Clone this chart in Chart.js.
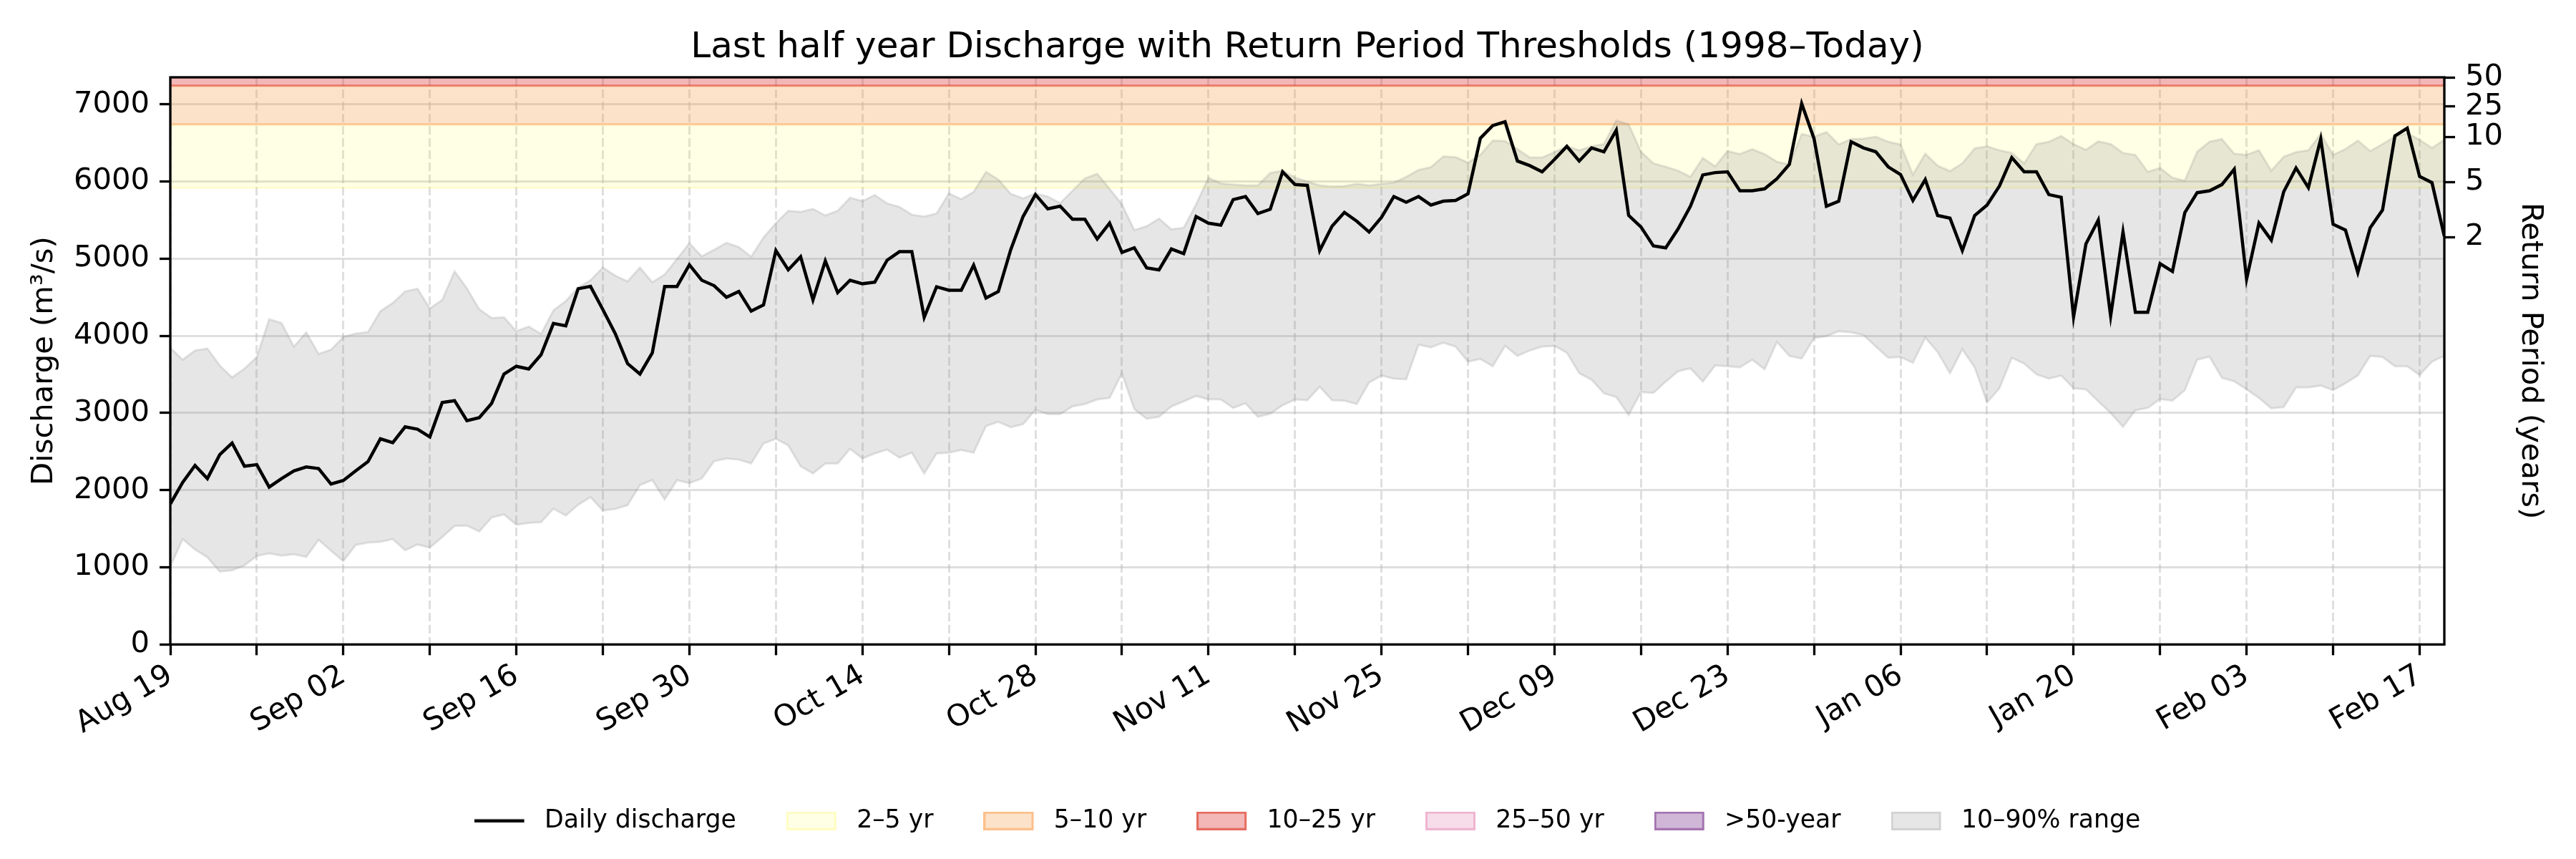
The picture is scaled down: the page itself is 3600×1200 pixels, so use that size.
<!DOCTYPE html>
<html>
<head>
<meta charset="utf-8">
<title>Discharge with Return Period Thresholds</title>
<script src="https://cdn.jsdelivr.net/npm/chart.js@4.4.1/dist/chart.umd.min.js"></script>
<style>
  html, body { margin: 0; padding: 0; background: #fff; overflow: hidden; }
  #wrap { width: 3600px; height: 1200px; }
</style>
</head>
<body>
<div id="wrap"><canvas id="chartQ" width="3600" height="1200"></canvas></div>
<script>
// Daily discharge (m³/s), one value per day from Aug 19
const dailyDischarge = [
  1820, 2100, 2320, 2150, 2460, 2610, 2310, 2330, 2040, 2150,
  2250, 2300, 2280, 2080, 2125, 2250, 2370, 2665, 2615, 2820,
  2790, 2690, 3135, 3160, 2900, 2940, 3125, 3505, 3605, 3570,
  3755, 4160, 4130, 4610, 4640, 4340, 4030, 3640, 3505, 3780,
  4640, 4640, 4920, 4720, 4650, 4500, 4575, 4320, 4400, 5105,
  4855, 5025, 4465, 4970, 4560, 4720, 4675, 4695, 4980, 5090,
  5090, 4240, 4635, 4590, 4590, 4915, 4490, 4575, 5115, 5545,
  5830, 5645, 5680, 5510, 5510, 5255, 5460, 5080, 5140, 4880,
  4855, 5125, 5065, 5545, 5460, 5435, 5765, 5805, 5585, 5640,
  6125, 5960, 5950, 5105, 5420, 5600, 5485, 5345, 5535, 5805,
  5730, 5805, 5695, 5745, 5755, 5840, 6560, 6725, 6775, 6265,
  6205, 6125, 6285, 6455, 6265, 6435, 6385, 6665, 5560, 5410,
  5165, 5140, 5385, 5680, 6085, 6115, 6125, 5880, 5880, 5905,
  6035, 6220, 7010, 6555, 5680, 5745, 6515, 6435, 6385, 6190,
  6090, 5755, 6025, 5560, 5525, 5105, 5560, 5695, 5940, 6310,
  6125, 6125, 5830, 5795, 4245, 5190, 5500, 4255, 5345, 4305,
  4305, 4935, 4835, 5595, 5855, 5880, 5960, 6160, 4735, 5460,
  5240, 5865, 6175, 5920, 6550, 5445, 5370, 4820, 5400, 5630,
  6590, 6690, 6065, 5985, 5290
];

// 90th percentile of the same calendar day (1998–today)
const range90 = [
  3845, 3690, 3810, 3835, 3615, 3460, 3575, 3725, 4215, 4165,
  3860, 4045, 3765, 3820, 3985, 4030, 4050, 4320, 4425, 4575,
  4610, 4355, 4465, 4835, 4615, 4345, 4230, 4240, 4060, 4120,
  4025, 4330, 4450, 4625, 4720, 4885, 4780, 4705, 4885, 4695,
  4795, 4995, 5200, 5030, 5115, 5205, 5150, 5025, 5275, 5460,
  5620, 5605, 5645, 5560, 5620, 5790, 5745, 5825, 5715, 5670,
  5570, 5545, 5585, 5845, 5770, 5865, 6125, 6025, 5840, 5780,
  5845, 5805, 5720, 5880, 6040, 6100, 5905, 5705, 5370, 5420,
  5520, 5380, 5400, 5705, 6050, 5975, 5960, 5950, 5950, 6110,
  6140, 6050, 6000, 5950, 5935, 5940, 5970, 5950, 5970, 5985,
  6060, 6150, 6185, 6325, 6315, 6245, 6345, 6530, 6525, 6420,
  6310, 6310, 6380, 6455, 6405, 6455, 6485, 6790, 6740, 6385,
  6235, 6190, 6140, 6060, 6305, 6195, 6395, 6355, 6420, 6355,
  6255, 6220, 6615, 6580, 6640, 6480, 6550, 6555, 6580, 6515,
  6480, 6090, 6360, 6205, 6135, 6235, 6430, 6455, 6405, 6370,
  6235, 6485, 6515, 6590, 6485, 6410, 6520, 6485, 6370, 6345,
  6125, 6175, 6050, 6010, 6385, 6515, 6550, 6360, 6345, 6405,
  6140, 6320, 6380, 6405, 6615, 6345, 6420, 6530, 6395, 6485,
  6580, 6625, 6540, 6435, 6540
];

// 10th percentile of the same calendar day (1998–today)
const range10 = [
  1010, 1365, 1230, 1130, 945, 960, 1025, 1145, 1180, 1150,
  1170, 1135, 1355, 1215, 1080, 1290, 1320, 1330, 1365, 1220,
  1295, 1255, 1390, 1535, 1540, 1465, 1645, 1685, 1550, 1575,
  1585, 1760, 1670, 1810, 1910, 1735, 1755, 1805, 2065, 2130,
  1880, 2130, 2090, 2150, 2375, 2410, 2395, 2345, 2605, 2665,
  2580, 2310, 2215, 2345, 2345, 2535, 2410, 2475, 2525, 2420,
  2485, 2215, 2475, 2485, 2520, 2485, 2830, 2885, 2815, 2855,
  3040, 2985, 2985, 3085, 3115, 3175, 3195, 3515, 3050, 2925,
  2950, 3085, 3150, 3220, 3175, 3175, 3065, 3125, 2950, 2990,
  3100, 3175, 3165, 3340, 3165, 3160, 3115, 3395, 3485, 3445,
  3435, 3885, 3850, 3910, 3860, 3665, 3700, 3605, 3870, 3740,
  3810, 3860, 3870, 3780, 3515, 3430, 3255, 3205, 2975, 3270,
  3260, 3405, 3540, 3580, 3405, 3615, 3605, 3590, 3690, 3565,
  3920, 3740, 3705, 3970, 3995, 4060, 4045, 4010, 3860, 3715,
  3725, 3650, 3975, 3790, 3515, 3825, 3590, 3135, 3320, 3715,
  3640, 3500, 3445, 3485, 3320, 3305, 3150, 3000, 2820, 3035,
  3065, 3180, 3160, 3295, 3690, 3730, 3455, 3410, 3305, 3195,
  3060, 3075, 3330, 3330, 3355, 3295, 3385, 3485, 3740, 3725,
  3605, 3605, 3490, 3665, 3740
];

// Return period bands (m³/s)
const bandLabels = ['2–5 yr', '5–10 yr', '10–25 yr', '25–50 yr', '>50-year'];
const bandLower = [5920, 6740, 7240, 7700, 8100];
const bandUpper = [6740, 7240, 7700, 8100, 9000];

// Left axis ticks
const dischargeTicks = [0, 1000, 2000, 3000, 4000, 5000, 6000, 7000];

// Right axis: return period ticks
const rpTickLabels = ['2', '5', '10', '25', '50'];
const rpTickValues = [5280, 5990, 6575, 6970, 7350];

const yMax = 7350;
const startDate = new Date(2024, 7, 19);
const monthNames = ['Jan', 'Feb', 'Mar', 'Apr', 'May', 'Jun', 'Jul', 'Aug', 'Sep', 'Oct', 'Nov', 'Dec'];
const dayIndex = dailyDischarge.map((_, i) => i);
const lastDay = dayIndex[dayIndex.length - 1];

const bandFill = ['rgba(255,255,0,0.1)', 'rgba(250,160,80,0.3)', 'rgba(220,50,50,0.35)', 'rgba(225,120,170,0.25)', 'rgba(120,50,140,0.35)'];
const bandEdge = ['rgba(255,235,0,0.15)', 'rgba(250,150,60,0.45)', 'rgba(220,60,40,0.6)', 'rgba(225,120,170,0.4)', 'rgba(120,50,140,0.5)'];
const rangeFill = 'rgba(128,128,128,0.2)';
const rangeEdge = 'rgba(128,128,128,0.2)';

const tickFont = 41.7;
Chart.defaults.font.family = "'DejaVu Sans', sans-serif";
Chart.defaults.color = '#000';

const fmtDay = v => {
    const d = new Date(startDate.getFullYear(), startDate.getMonth(), startDate.getDate() + v);
    return monthNames[d.getMonth()] + ' ' + String(d.getDate()).padStart(2, '0');
};

// Legend swatches (box is 70 wide, extra room acts as text gap)
const boxSwatch = (fill, edge) => {
    const c = document.createElement('canvas');
    c.width = 81; c.height = 26;
    const g = c.getContext('2d');
    g.fillStyle = fill;
    g.fillRect(0, 0, 70, 26);
    g.strokeStyle = edge;
    g.lineWidth = 3;
    g.strokeRect(1.5, 1.5, 67, 23);
    return c;
};
const lineSwatch = color => {
    const c = document.createElement('canvas');
    c.width = 81; c.height = 26;
    const g = c.getContext('2d');
    g.strokeStyle = color;
    g.lineWidth = 4.5;
    g.beginPath(); g.moveTo(0, 13); g.lineTo(70, 13); g.stroke();
    return c;
};
const legendItems = [
    { text: 'Daily discharge', swatch: lineSwatch('#000') },
    ...bandLabels.map((t, i) => ({ text: t, swatch: boxSwatch(bandFill[i], bandEdge[i]) })),
    { text: '10–90% range', swatch: boxSwatch(rangeFill, rangeEdge) }
];

// Axes frame on all four sides
const framePlugin = {
    id: 'frame',
    afterDatasetsDraw(chart) {
        const { ctx, chartArea: a } = chart;
        ctx.save();
        ctx.strokeStyle = '#000';
        ctx.lineWidth = 3.3;
        ctx.strokeRect(a.left, a.top, a.right - a.left, a.bottom - a.top);
        ctx.restore();
    }
};

const datasets = [
    { label: 'Daily discharge', data: dailyDischarge, borderColor: '#000', borderWidth: 4.5, pointRadius: 0, fill: false },
    { label: '90%', data: range90, borderColor: rangeEdge, backgroundColor: rangeFill, borderWidth: 3, pointRadius: 0, fill: '+1' },
    { label: '10%', data: range10, borderColor: rangeEdge, borderWidth: 3, pointRadius: 0, fill: false }
];
bandLabels.forEach((name, i) => {
    datasets.push({
        label: name,
        data: [{ x: 0, y: bandLower[i] }, { x: lastDay, y: bandLower[i] }],
        borderColor: bandEdge[i],
        backgroundColor: bandFill[i],
        borderWidth: 3,
        pointRadius: 0,
        fill: { value: bandUpper[i] }
    });
});

const ctx = document.getElementById('chartQ').getContext('2d');
new Chart(ctx, {
    type: 'line',
    data: { labels: dayIndex, datasets },
    plugins: [framePlugin],
    options: {
        responsive: false,
        devicePixelRatio: 1,
        animation: false,
        events: [],
        // left padding keeps the legend centred under the plot area
        layout: { autoPadding: false, padding: { top: 20, bottom: 26, left: 54, right: 0 } },
        plugins: {
            tooltip: { enabled: false },
            title: {
                display: true,
                text: 'Last half year Discharge with Return Period Thresholds (1998–Today)',
                color: '#000',
                font: { size: 50, weight: 'normal' },
                padding: { top: 17, bottom: 11 }
            },
            legend: {
                position: 'bottom',
                labels: {
                    usePointStyle: true,
                    pointStyleWidth: 81,
                    padding: 70,
                    color: '#000',
                    font: { size: 34.7 },
                    generateLabels: () => legendItems.map((it, i) => ({
                        text: it.text,
                        pointStyle: it.swatch,
                        fillStyle: 'transparent',
                        strokeStyle: 'transparent',
                        lineWidth: 0,
                        hidden: false,
                        fontColor: '#000',
                        index: i
                    }))
                }
            }
        },
        scales: {
            x: {
                type: 'linear',
                min: 0,
                max: lastDay,
                grid: { color: 'rgba(176,176,176,0.4)', lineWidth: 3, tickColor: '#000', tickWidth: 3.3, tickLength: 15 },
                border: { display: false, dash: [12, 5] },
                ticks: {
                    stepSize: 7,
                    autoSkip: false,
                    includeBounds: false,
                    minRotation: 30,
                    maxRotation: 30,
                    padding: 4,
                    font: { size: tickFont },
                    callback: v => (v % 14 === 0 ? fmtDay(v) : '')
                },
                afterFit: s => { s.height = 159; }
            },
            y: {
                position: 'left',
                min: 0,
                max: yMax,
                grid: { color: 'rgba(176,176,176,0.4)', lineWidth: 3, tickColor: '#000', tickWidth: 3.3, tickLength: 15 },
                border: { display: false },
                afterBuildTicks: s => { s.ticks = dischargeTicks.map(v => ({ value: v })); },
                ticks: { autoSkip: false, padding: 14, font: { size: tickFont }, callback: v => String(v) },
                title: { display: true, text: 'Discharge (m³/s)', font: { size: tickFont }, padding: { top: -17, bottom: 0 } },
                afterFit: s => { s.width = 184; }
            },
            y2: {
                position: 'right',
                min: 0,
                max: yMax,
                grid: { drawOnChartArea: false, tickColor: '#000', tickWidth: 3.3, tickLength: 15 },
                border: { display: false },
                afterBuildTicks: s => { s.ticks = rpTickValues.map(v => ({ value: v })); },
                ticks: { autoSkip: false, padding: 14, font: { size: tickFont }, callback: (v, i) => rpTickLabels[i] },
                title: { display: true, text: 'Return Period (years)', font: { size: tickFont }, padding: { top: 39, bottom: 0 } },
                afterFit: s => { s.width = 184; }
            }
        }
    }
});
</script>
</body>
</html>
